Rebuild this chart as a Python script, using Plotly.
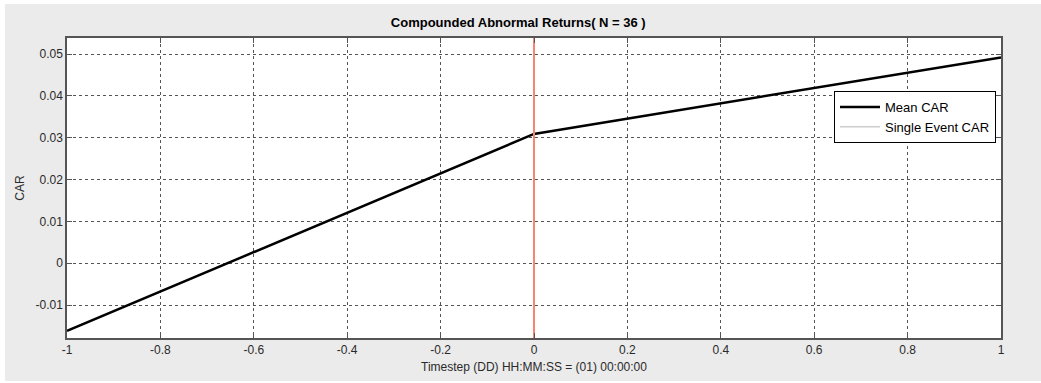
import plotly.graph_objects as go

timestep = [-1, 0, 1]
mean_car = [-0.0162, 0.0309, 0.0492]
x_ticks = [-1, -0.8, -0.6, -0.4, -0.2, 0, 0.2, 0.4, 0.6, 0.8, 1]
x_ticktext = ["-1", "-0.8", "-0.6", "-0.4", "-0.2", "0", "0.2", "0.4", "0.6", "0.8", "1"]
y_ticks = [-0.01, 0, 0.01, 0.02, 0.03, 0.04, 0.05]
y_ticktext = ["-0.01", "0", "0.01", "0.02", "0.03", "0.04", "0.05"]
y_range = [-0.01789, 0.05383]
event_x = 0

W, H = 1041, 383
L, R, T, B = 67, 40, 38, 45
pw, ph = W - L - R, H - T - B

def px(xp):
    return (xp - L) / pw

def py(yp):
    return (H - B - yp) / ph

FONT = "Liberation Sans, Arial, sans-serif"
BG = "#ebebeb"

fig = go.Figure()
fig.add_trace(go.Scatter(x=timestep, y=mean_car, mode="lines", name="Mean CAR",
                         line=dict(color="black", width=2.5)))
fig.add_trace(go.Scatter(x=[None], y=[None], mode="lines", name="Single Event CAR",
                         line=dict(color="#b4b4b4", width=1)))
fig.add_trace(go.Scatter(x=[event_x, event_x], y=y_range, mode="lines", showlegend=False,
                         line=dict(color="#fa8472", width=2)))

axis_common = dict(showline=True, linecolor="#555555", linewidth=1.5, mirror="ticks",
                   ticks="inside", ticklen=5, tickcolor="#555555",
                   showgrid=True, gridcolor="#555555", gridwidth=1, griddash="3px,3px",
                   zeroline=False, tickfont=dict(family=FONT, size=12, color="#2a2a2a"))

fig.update_xaxes(range=[-1, 1], tickvals=x_ticks, ticktext=x_ticktext,
                 title=dict(text="Timestep (DD) HH:MM:SS = (01) 00:00:00",
                            font=dict(family=FONT, size=12, color="#2a2a2a"), standoff=6),
                 **axis_common)
fig.update_yaxes(range=y_range, tickvals=y_ticks, ticktext=y_ticktext,
                 title=dict(text="CAR", font=dict(family=FONT, size=12, color="#2a2a2a"), standoff=8),
                 **axis_common)

fig.update_layout(
    width=W, height=H,
    margin=dict(l=L, r=R, t=T, b=B),
    paper_bgcolor=BG, plot_bgcolor="white",
    title=dict(text="<b>Compounded Abnormal Returns( N = 36 )</b>", x=px(532), xanchor="center",
               y=1 - 22 / H, yanchor="middle", font=dict(family=FONT, size=13, color="black")),
    legend=dict(x=px(834), y=py(91), xanchor="left", yanchor="top",
                bgcolor="white", bordercolor="black", borderwidth=1,
                font=dict(family=FONT, size=13, color="black"),
                itemwidth=40, tracegroupgap=0),
    showlegend=True,
    shapes=[
        dict(type="rect", xref="paper", yref="paper", x0=px(0), x1=px(5), y0=py(H), y1=py(0),
             fillcolor="white", line=dict(width=0), layer="above"),
        dict(type="rect", xref="paper", yref="paper", x0=px(0), x1=px(W), y0=py(4), y1=py(0),
             fillcolor="white", line=dict(width=0), layer="above"),
        dict(type="rect", xref="paper", yref="paper", x0=px(0), x1=px(W), y0=py(H), y1=py(381),
             fillcolor="white", line=dict(width=0), layer="above"),
    ],
)

fig.write_html("out.html")
